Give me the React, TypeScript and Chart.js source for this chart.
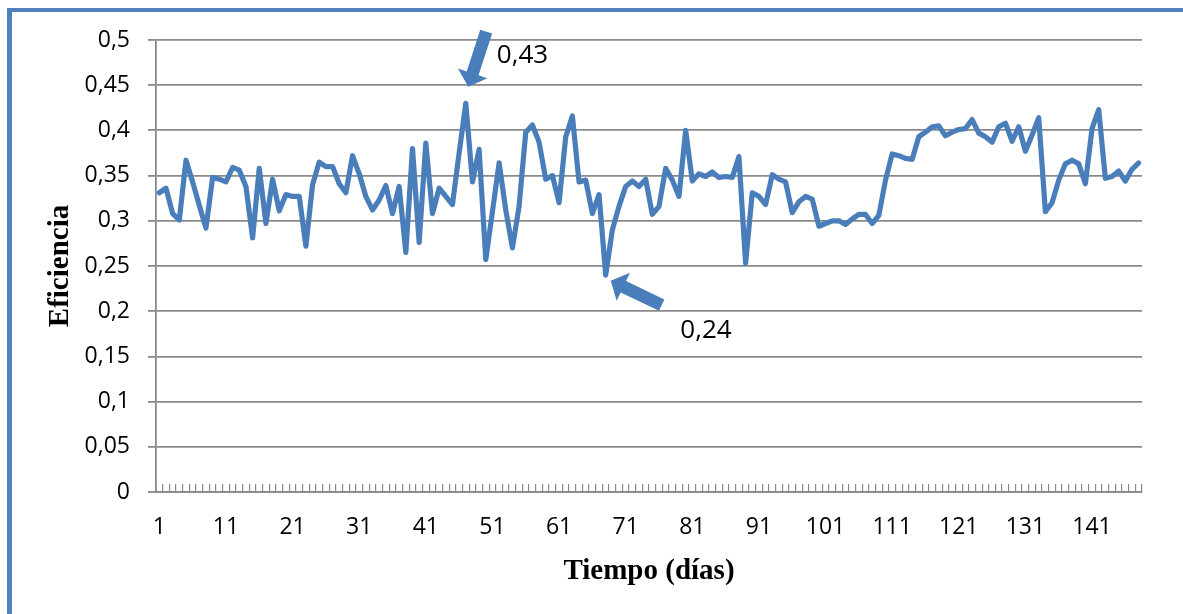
import React, { useEffect, useRef } from 'react';
import { Chart, registerables } from 'chart.js';

Chart.register(...registerables);

// Day numbers on the category axis (1 … 148)
const dayLabels: string[] = Array.from({ length: 148 }, (_, i) => String(i + 1));

// Daily efficiency values
const eficiencia: number[] = [
  0.331, 0.336, 0.308, 0.301, 0.367, 0.343, 0.317, 0.292, 0.348, 0.346,
  0.343, 0.359, 0.356, 0.338, 0.281, 0.358, 0.297, 0.346, 0.311, 0.329,
  0.327, 0.327, 0.272, 0.340, 0.365, 0.360, 0.360, 0.341, 0.331, 0.372,
  0.352, 0.327, 0.312, 0.323, 0.339, 0.308, 0.338, 0.265, 0.380, 0.276,
  0.386, 0.308, 0.336, 0.327, 0.318, 0.375, 0.430, 0.343, 0.379, 0.257,
  0.310, 0.364, 0.312, 0.270, 0.316, 0.398, 0.406, 0.387, 0.346, 0.350,
  0.320, 0.393, 0.416, 0.343, 0.345, 0.308, 0.329, 0.240, 0.290, 0.316,
  0.338, 0.344, 0.338, 0.346, 0.307, 0.316, 0.358, 0.345, 0.327, 0.400,
  0.344, 0.352, 0.349, 0.354, 0.348, 0.349, 0.348, 0.371, 0.253, 0.331,
  0.327, 0.318, 0.351, 0.346, 0.343, 0.309, 0.321, 0.327, 0.324, 0.294,
  0.297, 0.300, 0.300, 0.296, 0.302, 0.307, 0.307, 0.297, 0.306, 0.345,
  0.374, 0.372, 0.369, 0.368, 0.393, 0.398, 0.404, 0.405, 0.394, 0.398,
  0.401, 0.402, 0.412, 0.397, 0.393, 0.387, 0.404, 0.408, 0.388, 0.404,
  0.377, 0.395, 0.414, 0.310, 0.320, 0.345, 0.363, 0.367, 0.363, 0.341,
  0.402, 0.423, 0.347, 0.349, 0.355, 0.344, 0.357, 0.364,
];

// Indices of the maximum and minimum days that get a callout
const calloutIndices: number[] = [46, 67];

// Callout geometry, in pixels relative to the marked point
const calloutStyle = [
  { tip: [2.5, -16.6], tail: [20.4, -71.6], text: [56.7, -47.8] },
  { tip: [5, 5.7], tail: [56, 30], text: [100.3, 55.5] },
];

const BLUE = '#4a7ebb';
const GRID = '#8a8a8a';
const SANS = '"Open Sans", "Liberation Sans", sans-serif';
const SERIF = '"Liberation Serif", "Times New Roman", serif';

const fmt = (v: number, digits?: number) => {
  const s = digits !== undefined ? v.toFixed(digits) : String(Math.round(v * 100) / 100);
  return s.replace('.', ',');
};

function blockArrow(
  ctx: CanvasRenderingContext2D,
  tx: number, ty: number, hx: number, hy: number,
  shaftW: number, headW: number, headL: number,
) {
  const dx = hx - tx;
  const dy = hy - ty;
  const len = Math.hypot(dx, dy);
  const ux = dx / len;
  const uy = dy / len;
  const nx = -uy;
  const ny = ux;
  const bx = hx - ux * headL;
  const by = hy - uy * headL;
  ctx.beginPath();
  ctx.moveTo(tx + (nx * shaftW) / 2, ty + (ny * shaftW) / 2);
  ctx.lineTo(bx + (nx * shaftW) / 2, by + (ny * shaftW) / 2);
  ctx.lineTo(bx + (nx * headW) / 2, by + (ny * headW) / 2);
  ctx.lineTo(hx, hy);
  ctx.lineTo(bx - (nx * headW) / 2, by - (ny * headW) / 2);
  ctx.lineTo(bx - (nx * shaftW) / 2, by - (ny * shaftW) / 2);
  ctx.lineTo(tx - (nx * shaftW) / 2, ty - (ny * shaftW) / 2);
  ctx.closePath();
  ctx.fill();
}

const calloutPlugin = {
  id: 'callouts',
  afterDatasetsDraw(chart: any) {
    const { ctx, scales } = chart;
    ctx.save();
    calloutIndices.forEach((idx, k) => {
      const st = calloutStyle[k];
      const px = scales.x.getPixelForValue(idx);
      const py = scales.y.getPixelForValue(eficiencia[idx]);
      const hx = px + st.tip[0];
      const hy = py + st.tip[1];
      const tx = px + st.tail[0];
      const ty = py + st.tail[1];
      ctx.fillStyle = BLUE;
      blockArrow(ctx, tx, ty, hx, hy, 12.5, 31, 14);
      ctx.fillStyle = '#000';
      ctx.font = `26px ${SANS}`;
      ctx.textAlign = 'center';
      ctx.textBaseline = 'middle';
      ctx.fillText(fmt(eficiencia[idx], 2), px + st.text[0], py + st.text[1]);
    });
    ctx.restore();
  },
};

export default function App() {
  const canvasRef = useRef<HTMLCanvasElement>(null);

  useEffect(() => {
    if (!canvasRef.current) return;
    const chart = new Chart(canvasRef.current, {
      type: 'line',
      data: {
        labels: dayLabels,
        datasets: [
          {
            label: 'Eficiencia',
            data: eficiencia,
            borderColor: BLUE,
            backgroundColor: BLUE,
            borderWidth: 5.2,
            borderJoinStyle: 'round',
            borderCapStyle: 'round',
            pointRadius: 0,
            tension: 0,
            fill: false,
          },
        ],
      },
      options: {
        responsive: false,
        devicePixelRatio: 1,
        animation: false,
        layout: { padding: { left: 0, top: 40, right: 41, bottom: 0 } },
        plugins: {
          legend: { display: false },
          tooltip: { enabled: false },
        },
        scales: {
          x: {
            type: 'category',
            offset: true,
            grid: {
              offset: true,
              drawOnChartArea: false,
              drawTicks: true,
              tickLength: -8,
              color: GRID,
              lineWidth: 1.2,
            },
            border: { display: true, color: GRID, width: 1.8 },
            ticks: {
              autoSkip: false,
              maxRotation: 0,
              minRotation: 0,
              padding: 30,
              color: '#000',
              font: { family: SANS, size: 23 },
              callback: (_v: any, i: number) => (i % 10 === 0 ? dayLabels[i] : ''),
            },
            title: {
              display: true,
              text: 'Tiempo (días)',
              color: '#000',
              font: { family: SERIF, size: 29, weight: 'bold' },
              padding: { top: 0, bottom: 25 },
            },
            afterFit: (s: any) => {
              s.height = 122;
            },
          },
          y: {
            min: 0,
            max: 0.5,
            grid: { color: GRID, lineWidth: 1.8, tickLength: 8 },
            border: { display: true, color: GRID, width: 1.8 },
            ticks: {
              stepSize: 0.05,
              padding: 18,
              color: '#000',
              font: { family: SANS, size: 23 },
              callback: (v: any) => fmt(Number(v)),
            },
            title: {
              display: true,
              text: 'Eficiencia',
              color: '#000',
              font: { family: SERIF, size: 29, weight: 'bold' },
              padding: { top: 43, bottom: 0 },
            },
            afterFit: (s: any) => {
              s.width = 156;
            },
          },
        },
      } as any,
      plugins: [calloutPlugin],
    });
    return () => chart.destroy();
  }, []);

  return (
    <div
      style={{
        position: 'fixed',
        left: 0,
        top: 0,
        width: 1183,
        height: 614,
        overflow: 'hidden',
        background: '#fff',
      }}
    >
      <div
        style={{
          position: 'absolute',
          left: 7,
          top: 8,
          width: 1400,
          height: 800,
          borderLeft: '5px solid #4f81bd',
          borderTop: '4px solid #4f81bd',
          boxSizing: 'border-box',
        }}
      />
      <canvas
        ref={canvasRef}
        width={1183}
        height={614}
        style={{ position: 'absolute', left: 0, top: 0, width: 1183, height: 614 }}
      />
    </div>
  );
}
